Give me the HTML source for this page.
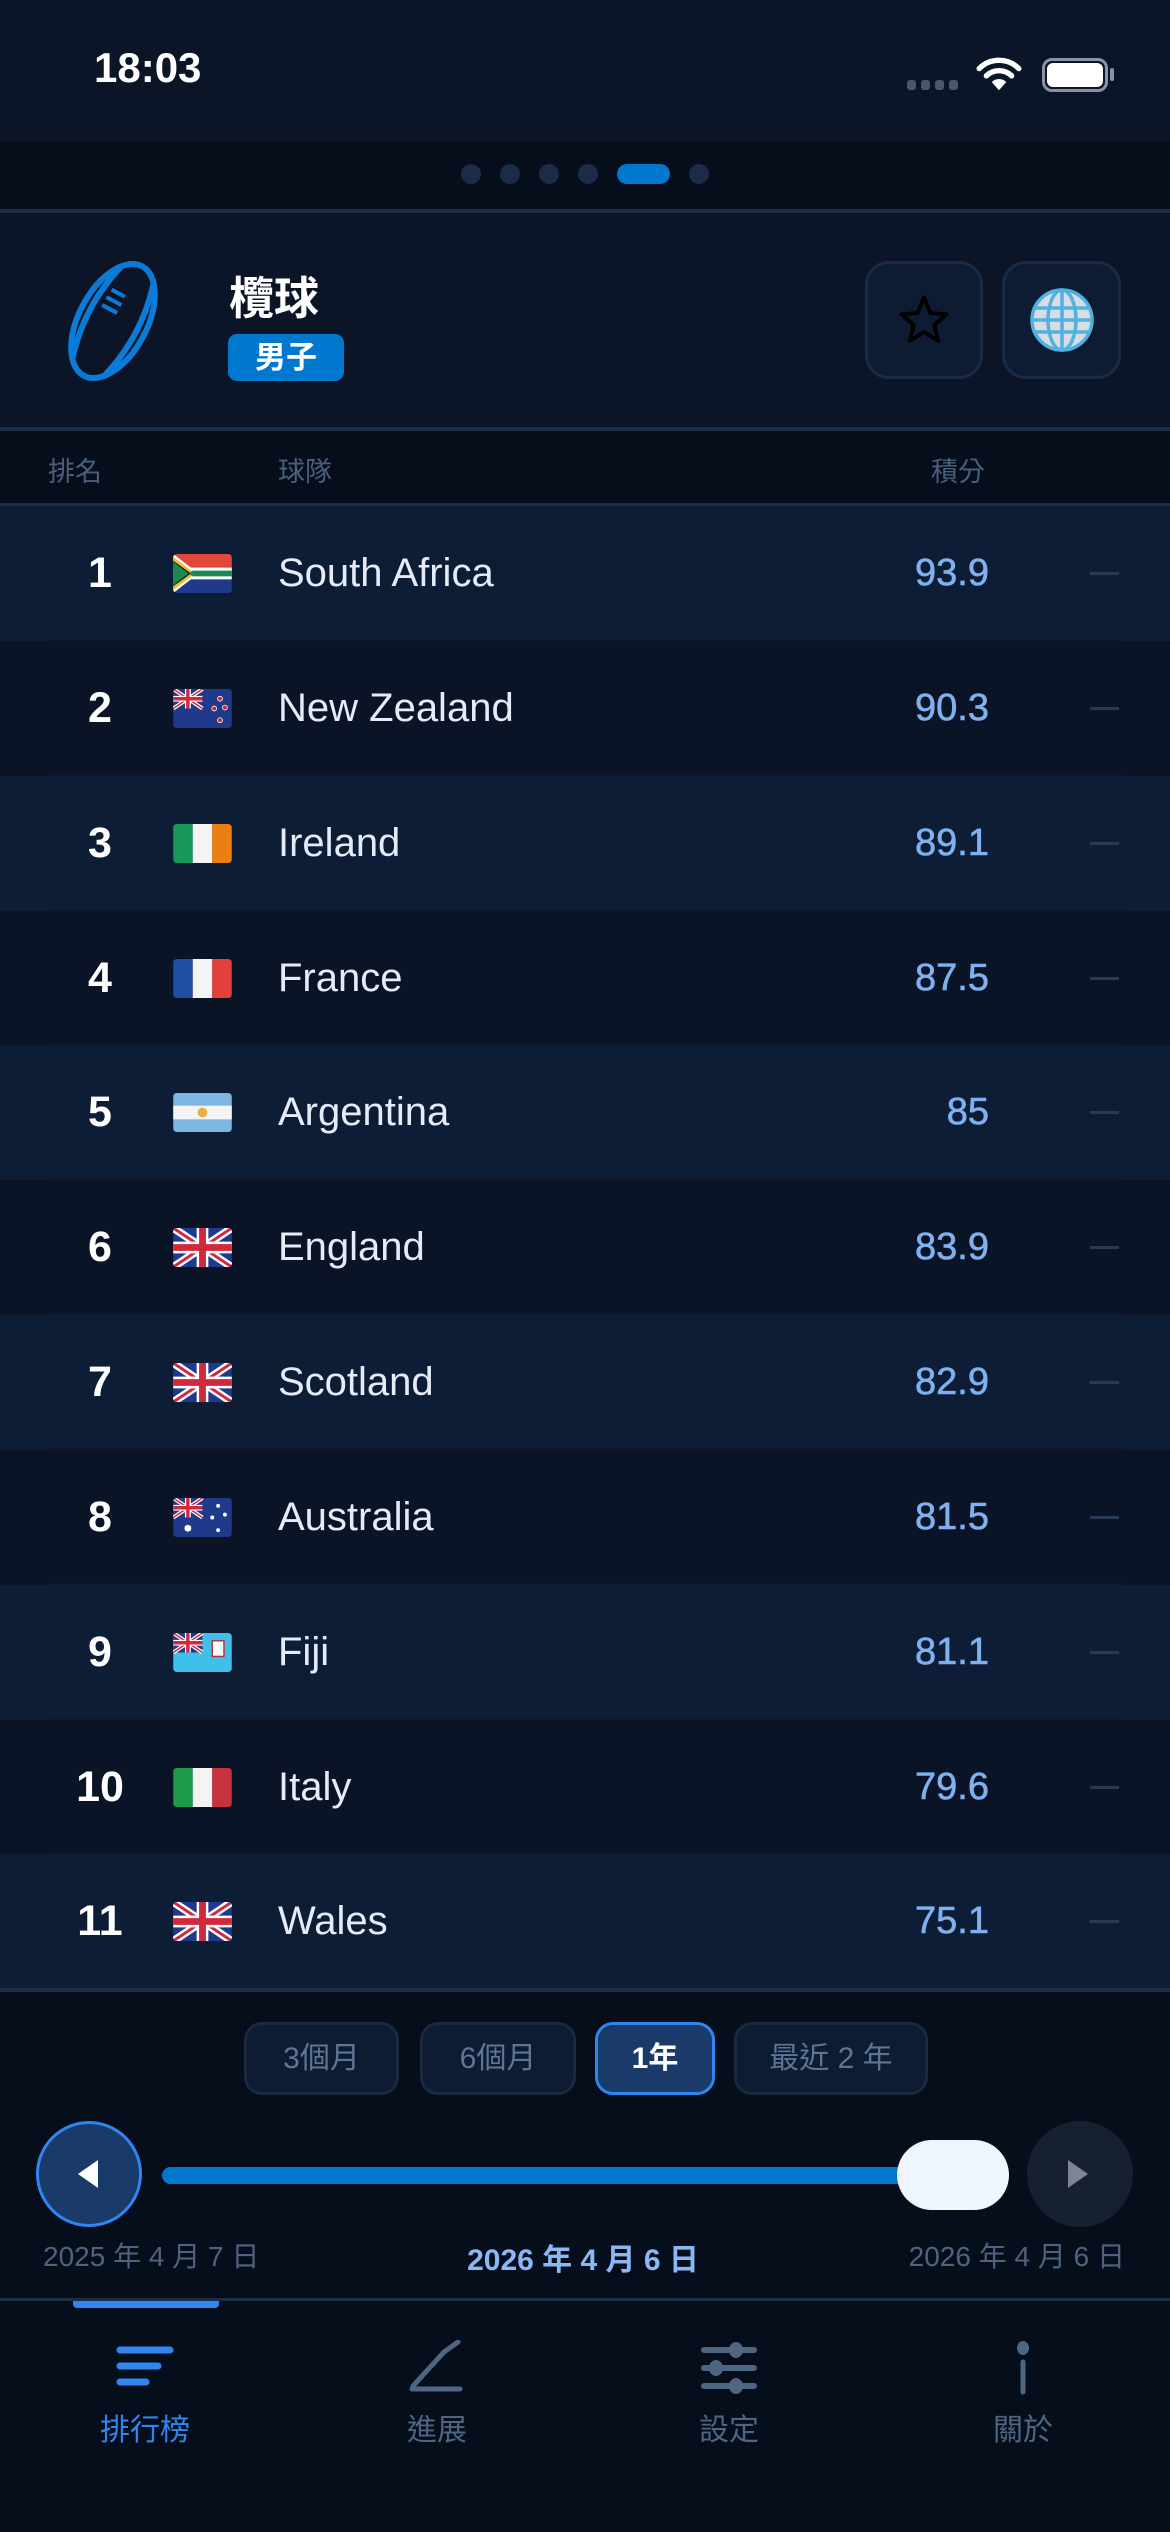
<!DOCTYPE html>
<html><head><meta charset="utf-8">
<style>
*{margin:0;padding:0;box-sizing:border-box}
body{width:1170px;height:2532px;background:#0b1527;position:relative;overflow:hidden;font-family:"Liberation Sans","Noto Sans CJK TC",sans-serif;color:#fff}
.a{position:absolute}
.row{position:absolute;left:0;width:1170px;height:135px}
.row.o{background:#0e1d36}
.row.e{background:#0a1426}
.sep{position:absolute;left:48px;right:48px;bottom:0;height:2px;background:#0c1830}
.rk{position:absolute;left:60px;width:80px;text-align:center;top:0;line-height:135px;font-weight:bold;font-size:43px}
.fl{position:absolute;left:173px;top:48px;width:59px;height:39px;border-radius:4px;overflow:hidden}
.nm{position:absolute;left:278px;top:0;line-height:135px;font-size:40px;color:#e6ecf7}
.pt{position:absolute;right:181px;top:0;line-height:135px;font-size:38px;color:#7fb1ef;-webkit-text-stroke:0.6px #7fb1ef}
.ds{position:absolute;left:1090px;top:66px;width:29px;height:3px;background:#2a3a55}
.btn{position:absolute;top:2022px;height:73px;border:3px solid #1a2942;background:#0e1c33;border-radius:18px;color:#5e7594;font-size:30px;text-align:center;line-height:67px}
.tab{position:absolute;top:2405px;width:200px;text-align:center;font-size:30px;color:#4f6683}
</style></head><body>
<svg width="0" height="0" style="position:absolute">
<defs>
<g id="uk"><rect width="60" height="40" fill="#1f3a8a"/><path d="M0 0L60 40M60 0L0 40" stroke="#fff" stroke-width="8"/><path d="M0 0L60 40M60 0L0 40" stroke="#d0283c" stroke-width="3"/><path d="M30 0V40M0 20H60" stroke="#fff" stroke-width="12"/><path d="M30 0V40M0 20H60" stroke="#d0283c" stroke-width="7"/></g>
<g id="uks"><rect width="30" height="20" fill="#1f3a8a"/><path d="M0 0L30 20M30 0L0 20" stroke="#fff" stroke-width="4"/><path d="M0 0L30 20M30 0L0 20" stroke="#d0283c" stroke-width="1.5"/><path d="M15 0V20M0 10H30" stroke="#fff" stroke-width="6"/><path d="M15 0V20M0 10H30" stroke="#d0283c" stroke-width="3.5"/></g>
</defs></svg>

<!-- status bar -->
<div class="a" style="left:94px;top:44px;font-size:42px;font-weight:bold">18:03</div>
<div class="a" style="left:907px;top:80px;width:52px;height:10px">
 <span class="a" style="left:0;width:9px;height:10px;border-radius:3px;background:#4a5670"></span>
 <span class="a" style="left:14px;width:9px;height:10px;border-radius:3px;background:#4a5670"></span>
 <span class="a" style="left:28px;width:9px;height:10px;border-radius:3px;background:#4a5670"></span>
 <span class="a" style="left:42px;width:9px;height:10px;border-radius:3px;background:#4a5670"></span>
</div>
<svg class="a" style="left:976px;top:56px" width="46" height="36" viewBox="0 0 50 40"><path d="M3 14A31 31 0 0 1 47 14" stroke="#fff" stroke-width="6" fill="none" stroke-linecap="round"/><path d="M11 22A20 20 0 0 1 39 22" stroke="#fff" stroke-width="6" fill="none" stroke-linecap="round"/><path d="M25 38L17 29A11 11 0 0 1 33 29Z" fill="#fff"/></svg>
<div class="a" style="left:1042px;top:58px;width:66px;height:34px;border:3px solid #8a93a5;border-radius:10px"></div>
<div class="a" style="left:1047px;top:63px;width:56px;height:24px;background:#fff;border-radius:6px"></div>
<div class="a" style="left:1110px;top:68px;width:4px;height:13px;background:#8a93a5;border-radius:2px"></div>

<!-- page dots -->
<div class="a" style="left:0;top:141px;width:1170px;height:69px;background:#060e1c"></div>
<div class="a" style="left:461px;top:164px;width:20px;height:20px;border-radius:10px;background:#1b2b48"></div>
<div class="a" style="left:500px;top:164px;width:20px;height:20px;border-radius:10px;background:#1b2b48"></div>
<div class="a" style="left:539px;top:164px;width:20px;height:20px;border-radius:10px;background:#1b2b48"></div>
<div class="a" style="left:578px;top:164px;width:20px;height:20px;border-radius:10px;background:#1b2b48"></div>
<div class="a" style="left:617px;top:164px;width:53px;height:20px;border-radius:10px;background:#0078d0"></div>
<div class="a" style="left:689px;top:164px;width:20px;height:20px;border-radius:10px;background:#1b2b48"></div>
<div class="a" style="left:0;top:209px;width:1170px;height:4px;background:#1c2d48"></div>

<!-- header -->
<svg class="a" style="left:50px;top:258px" width="126" height="126" viewBox="0 0 126 126"><g transform="rotate(28 63 63)" fill="none" stroke="#0a7bd6" stroke-width="6"><ellipse cx="63" cy="63" rx="34" ry="62"/><path d="M45 10Q30 63 45 116"/><path d="M81 10Q96 63 81 116"/><path d="M47 36H62M46 45H63M46 54H63" stroke-width="4"/></g></svg>
<div class="a" style="left:229px;top:262px;font-size:45px;font-weight:bold">欖球</div>
<div class="a" style="left:228px;top:334px;width:116px;height:47px;background:#0078d0;border-radius:9px;font-size:31px;font-weight:bold;text-align:center;line-height:47px">男子</div>
<div class="a" style="left:865px;top:261px;width:118px;height:118px;border:3px solid #1a2a45;background:#0e1c33;border-radius:24px"></div>
<svg class="a" style="left:897px;top:293px" width="54" height="54" viewBox="0 0 24 24"><path d="M12 2l2.9 6.9 7.1.6-5.4 4.7 1.6 7-6.2-3.8-6.2 3.8 1.6-7L2 9.5l7.1-.6z" fill="none" stroke="#000" stroke-width="1.8" stroke-linejoin="round"/></svg>
<div class="a" style="left:1002px;top:261px;width:119px;height:118px;border:3px solid #1a2a45;background:#0e1c33;border-radius:24px"></div>
<svg class="a" style="left:1030px;top:288px" width="64" height="64" viewBox="0 0 64 64"><circle cx="32" cy="32" r="30" fill="#d9dde3"/><g fill="none" stroke="#4fb2e0" stroke-width="3.5"><circle cx="32" cy="32" r="30"/><ellipse cx="32" cy="32" rx="14" ry="30"/><path d="M32 2V62M4 20H60M2 32H62M4 44H60"/></g></svg>
<div class="a" style="left:0;top:427px;width:1170px;height:4px;background:#1c2d48"></div>

<!-- column header -->
<div class="a" style="left:0;top:431px;width:1170px;height:73px;background:#060e1c"></div>
<div class="a" style="left:48px;top:450px;font-size:27px;color:#4a5f7d">排名</div>
<div class="a" style="left:278px;top:450px;font-size:27px;color:#4a5f7d">球隊</div>
<div class="a" style="left:931px;top:450px;font-size:27px;color:#4a5f7d">積分</div>
<div class="a" style="left:0;top:503px;width:1170px;height:3px;background:#1c2d48"></div>

<!-- rows -->
<div class="row o" style="top:506px"><div class="sep"></div><div class="rk">1</div>
<svg class="fl" viewBox="0 0 60 40"><rect width="60" height="40" fill="#1f3a8a"/><rect width="60" height="20" fill="#e0493a"/><path d="M0 0L26 20L0 40Z" fill="#fff"/><path d="M0 14H60V26H0Z" fill="#fff"/><path d="M0 3L22 20L0 37Z" fill="#f0b82a"/><path d="M0 7L18 20L0 33Z" fill="#000"/><path d="M20 17H60V23H20L0 8V32Z" fill="#1a8a50"/></svg>
<div class="nm">South Africa</div><div class="pt">93.9</div><div class="ds"></div></div>

<div class="row e" style="top:641px"><div class="sep"></div><div class="rk">2</div>
<svg class="fl" viewBox="0 0 60 40"><rect width="60" height="40" fill="#1f3a8a"/><use href="#uks"/><g fill="#d0283c" stroke="#fff" stroke-width="0.8"><circle cx="48" cy="10" r="2.5"/><circle cx="42" cy="20" r="2.5"/><circle cx="53" cy="19" r="2.5"/><circle cx="48" cy="32" r="2.5"/></g></svg>
<div class="nm">New Zealand</div><div class="pt">90.3</div><div class="ds"></div></div>

<div class="row o" style="top:776px"><div class="sep"></div><div class="rk">3</div>
<svg class="fl" viewBox="0 0 60 40"><rect width="20" height="40" fill="#17975a"/><rect x="20" width="20" height="40" fill="#f4f4f4"/><rect x="40" width="20" height="40" fill="#ec7f10"/></svg>
<div class="nm">Ireland</div><div class="pt">89.1</div><div class="ds"></div></div>

<div class="row e" style="top:911px"><div class="sep"></div><div class="rk">4</div>
<svg class="fl" viewBox="0 0 60 40"><rect width="20" height="40" fill="#1f4fa0"/><rect x="20" width="20" height="40" fill="#f4f4f4"/><rect x="40" width="20" height="40" fill="#e2403a"/></svg>
<div class="nm">France</div><div class="pt">87.5</div><div class="ds"></div></div>

<div class="row o" style="top:1045px"><div class="sep"></div><div class="rk">5</div>
<svg class="fl" viewBox="0 0 60 40"><rect width="60" height="40" fill="#7eb6e2"/><rect y="13" width="60" height="14" fill="#f4f4f4"/><circle cx="30" cy="20" r="5" fill="#e8b04a"/></svg>
<div class="nm">Argentina</div><div class="pt">85</div><div class="ds"></div></div>

<div class="row e" style="top:1180px"><div class="sep"></div><div class="rk">6</div>
<svg class="fl" viewBox="0 0 60 40"><use href="#uk"/></svg>
<div class="nm">England</div><div class="pt">83.9</div><div class="ds"></div></div>

<div class="row o" style="top:1315px"><div class="sep"></div><div class="rk">7</div>
<svg class="fl" viewBox="0 0 60 40"><use href="#uk"/></svg>
<div class="nm">Scotland</div><div class="pt">82.9</div><div class="ds"></div></div>

<div class="row e" style="top:1450px"><div class="sep"></div><div class="rk">8</div>
<svg class="fl" viewBox="0 0 60 40"><rect width="60" height="40" fill="#1f3a8a"/><use href="#uks"/><g fill="#fff"><circle cx="15" cy="31" r="3.5"/><circle cx="46" cy="8" r="2"/><circle cx="40" cy="20" r="2"/><circle cx="53" cy="17" r="2"/><circle cx="46" cy="33" r="2"/></g></svg>
<div class="nm">Australia</div><div class="pt">81.5</div><div class="ds"></div></div>

<div class="row o" style="top:1585px"><div class="sep"></div><div class="rk">9</div>
<svg class="fl" viewBox="0 0 60 40"><rect width="60" height="40" fill="#3ec0ea"/><use href="#uks"/><rect x="40" y="8" width="12" height="16" fill="#fff" stroke="#c03030" stroke-width="1.5"/></svg>
<div class="nm">Fiji</div><div class="pt">81.1</div><div class="ds"></div></div>

<div class="row e" style="top:1720px"><div class="sep"></div><div class="rk">10</div>
<svg class="fl" viewBox="0 0 60 40"><rect width="20" height="40" fill="#1b9a4a"/><rect x="20" width="20" height="40" fill="#f4f4f4"/><rect x="40" width="20" height="40" fill="#c8323e"/></svg>
<div class="nm">Italy</div><div class="pt">79.6</div><div class="ds"></div></div>

<div class="row o" style="top:1854px"><div class="rk">11</div>
<svg class="fl" viewBox="0 0 60 40"><use href="#uk"/></svg>
<div class="nm">Wales</div><div class="pt">75.1</div><div class="ds"></div></div>

<div class="a" style="left:0;top:1988px;width:1170px;height:4px;background:#1c2d48"></div>

<!-- bottom controls -->
<div class="a" style="left:0;top:1992px;width:1170px;height:540px;background:#060e1c"></div>
<div class="btn" style="left:244px;width:155px">3個月</div>
<div class="btn" style="left:420px;width:156px">6個月</div>
<div class="btn" style="left:595px;width:120px;border-color:#2f86f0;background:#1a3a6a;color:#fff;font-weight:bold">1年</div>
<div class="btn" style="left:734px;width:194px">最近 2 年</div>

<div class="a" style="left:36px;top:2121px;width:106px;height:106px;border-radius:53px;background:#1a3a6a;border:3px solid #2f86f0"></div>
<svg class="a" style="left:74px;top:2158px" width="30" height="32" viewBox="0 0 30 32"><path d="M4 16L24 2V30Z" fill="#fff"/></svg>
<div class="a" style="left:162px;top:2167px;width:780px;height:17px;border-radius:9px;background:#0078d0"></div>
<div class="a" style="left:897px;top:2140px;width:112px;height:70px;border-radius:35px;background:#eef5fd"></div>
<div class="a" style="left:1027px;top:2121px;width:106px;height:106px;border-radius:53px;background:#16202e"></div>
<svg class="a" style="left:1062px;top:2158px" width="30" height="32" viewBox="0 0 30 32"><path d="M26 16L6 2V30Z" fill="#7d8593"/></svg>

<div class="a" style="left:43px;top:2235px;font-size:28px;color:#4f6380">2025 年 4 月 7 日</div>
<div class="a" style="left:383px;top:2235px;width:400px;text-align:center;font-size:30px;font-weight:bold;color:#8ab8f5">2026 年 4 月 6 日</div>
<div class="a" style="left:725px;top:2235px;width:400px;text-align:right;font-size:28px;color:#4f6380">2026 年 4 月 6 日</div>

<div class="a" style="left:0;top:2298px;width:1170px;height:3px;background:#1c2d48"></div>
<div class="a" style="left:73px;top:2301px;width:146px;height:7px;border-radius:0 0 4px 4px;background:#2f86f0"></div>

<!-- tab icons -->
<svg class="a" style="left:116px;top:2346px" width="58" height="42" viewBox="0 0 58 42"><g stroke="#2f86f0" stroke-width="7" stroke-linecap="round"><path d="M4 4H54M4 20H42M4 36H30"/></g></svg>
<svg class="a" style="left:408px;top:2340px" width="58" height="54" viewBox="0 0 58 54"><g stroke="#4f6683" stroke-width="5" stroke-linecap="round" fill="none"><path d="M4 49H52"/><path d="M5 46L36 12L50 2"/></g></svg>
<svg class="a" style="left:700px;top:2342px" width="58" height="52" viewBox="0 0 58 52"><g stroke="#4f6683" stroke-width="6" stroke-linecap="round"><path d="M4 8H54M4 26H54M4 44H54"/></g><g fill="#4f6683"><ellipse cx="36" cy="8" rx="7" ry="8"/><ellipse cx="16" cy="26" rx="7" ry="8"/><ellipse cx="36" cy="44" rx="7" ry="8"/></g></svg>
<svg class="a" style="left:1012px;top:2340px" width="22" height="56" viewBox="0 0 22 56"><ellipse cx="11" cy="8" rx="6" ry="7" fill="#4f6683"/><path d="M11 22V52" stroke="#4f6683" stroke-width="5" stroke-linecap="round"/></svg>

<div class="tab" style="left:45px;color:#2f86f0">排行榜</div>
<div class="tab" style="left:337px">進展</div>
<div class="tab" style="left:629px">設定</div>
<div class="tab" style="left:923px">關於</div>
</body></html>
